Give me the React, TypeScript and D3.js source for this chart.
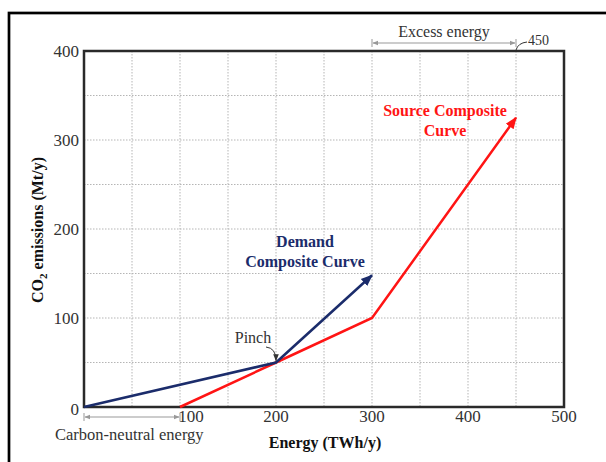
import React, { useRef, useEffect } from "react";
import * as d3 from "d3";

// composite curves (energy TWh/y, CO2 Mt/y)
const demandEnergy = [0, 200, 300];
const demandCO2 = [0, 50, 148];
const sourceEnergy = [100, 200, 300, 450];
const sourceCO2 = [0, 50, 100, 325];

const xTickLabels = [100, 200, 300, 400, 500];
const yTickLabels = [0, 100, 200, 300, 400];
const gridStep = 50;

const pinch = [200, 50];
const carbonNeutral = [0, 100];
const excess = [300, 450];

const NAVY = "#1b2c6b";
const RED = "#ff1414";
const FONT = "'Liberation Serif', 'Times New Roman', serif";

const App = () => {
  const svgRef = useRef<SVGSVGElement>(null);

  useEffect(() => {
    const svg = d3.select(svgRef.current);
    svg.selectAll("*").remove();

    const x = d3.scaleLinear().domain([0, 500]).range([84, 564]);
    const y = d3.scaleLinear().domain([0, 400]).range([407, 51]);

    const defs = svg.append("defs");
    const marker = (id: string, color: string, size: number) => {
      defs
        .append("marker")
        .attr("id", id)
        .attr("viewBox", "0 0 10 10")
        .attr("refX", 9)
        .attr("refY", 5)
        .attr("markerWidth", size)
        .attr("markerHeight", size)
        .attr("markerUnits", "userSpaceOnUse")
        .attr("orient", "auto-start-reverse")
        .append("path")
        .attr("d", "M0,1 L10,5 L0,9 Z")
        .attr("fill", color);
    };
    marker("navyHead", NAVY, 12);
    marker("redHead", RED, 12);
    marker("grayHead", "#999", 6);
    marker("darkHead", "#333", 7);

    // outer frame
    svg
      .append("rect")
      .attr("x", 9)
      .attr("y", 13)
      .attr("width", 640)
      .attr("height", 500)
      .attr("fill", "white")
      .attr("stroke", "black")
      .attr("stroke-width", 2.7);

    // grid
    const grid = svg.append("g").attr("stroke", "#b5b5b5").attr("stroke-width", 1).attr("stroke-dasharray", "1.5,1.5");
    grid
      .selectAll("line.v")
      .data(d3.range(gridStep, 500, gridStep))
      .enter()
      .append("line")
      .attr("x1", (d) => x(d))
      .attr("x2", (d) => x(d))
      .attr("y1", y(400))
      .attr("y2", y(0));
    grid
      .selectAll("line.h")
      .data(d3.range(gridStep, 400, gridStep))
      .enter()
      .append("line")
      .attr("x1", x(0))
      .attr("x2", x(500))
      .attr("y1", (d) => y(d))
      .attr("y2", (d) => y(d));

    // plot frame
    svg
      .append("rect")
      .attr("x", x(0))
      .attr("y", y(400))
      .attr("width", x(500) - x(0))
      .attr("height", y(0) - y(400))
      .attr("fill", "none")
      .attr("stroke", "#2a2a2a")
      .attr("stroke-width", 2.5);

    // tick labels
    svg
      .append("g")
      .selectAll("text")
      .data(xTickLabels)
      .enter()
      .append("text")
      .attr("x", (d) => x(d) + (d === 100 ? 11 : 0))
      .attr("y", 422)
      .attr("text-anchor", "middle")
      .attr("font-family", FONT)
      .attr("font-size", 17)
      .attr("fill", "#333")
      .text((d) => d);

    svg
      .append("g")
      .selectAll("text")
      .data(yTickLabels)
      .enter()
      .append("text")
      .attr("x", 79)
      .attr("y", (d) => y(d) + (d === 0 ? 2 : 0))
      .attr("dy", "0.35em")
      .attr("text-anchor", "end")
      .attr("font-family", FONT)
      .attr("font-size", 17)
      .attr("fill", "#333")
      .text((d) => d);

    // axis titles
    svg
      .append("text")
      .attr("x", 325)
      .attr("y", 448)
      .attr("text-anchor", "middle")
      .attr("font-family", FONT)
      .attr("font-size", 16)
      .attr("font-weight", "bold")
      .attr("fill", "#111")
      .text("Energy (TWh/y)");

    const yTitle = svg
      .append("text")
      .attr("transform", "translate(43,230) rotate(-90)")
      .attr("text-anchor", "middle")
      .attr("font-family", FONT)
      .attr("font-size", 16)
      .attr("font-weight", "bold")
      .attr("fill", "#111");
    yTitle.append("tspan").text("CO");
    yTitle.append("tspan").attr("font-size", 11).attr("dy", 4).text("2");
    yTitle.append("tspan").attr("dy", -4).text(" emissions (Mt/y)");

    // curves
    const line = d3
      .line<[number, number]>()
      .x((d) => x(d[0]))
      .y((d) => y(d[1]));

    svg
      .append("path")
      .attr("d", line(sourceEnergy.map((e, i) => [e, sourceCO2[i]])))
      .attr("fill", "none")
      .attr("stroke", RED)
      .attr("stroke-width", 2.5)
      .attr("marker-end", "url(#redHead)");

    svg
      .append("path")
      .attr("d", line(demandEnergy.map((e, i) => [e, demandCO2[i]])))
      .attr("fill", "none")
      .attr("stroke", NAVY)
      .attr("stroke-width", 2.5)
      .attr("marker-end", "url(#navyHead)");

    // curve labels
    const label = (lines: string[], cx: number, cy: number, color: string) => {
      lines.forEach((t, i) =>
        svg
          .append("text")
          .attr("x", cx)
          .attr("y", cy + i * 20)
          .attr("text-anchor", "middle")
          .attr("font-family", FONT)
          .attr("font-size", 16)
          .attr("font-weight", "bold")
          .attr("fill", color)
          .text(t)
      );
    };
    label(["Demand", "Composite Curve"], 305, 247, NAVY);
    label(["Source Composite", "Curve"], 445, 116, RED);

    // dimension arrows
    const dim = (x0: number, x1: number, yy: number) => {
      const g = svg.append("g").attr("stroke", "#999").attr("stroke-width", 1);
      g.append("line")
        .attr("x1", x0 + 1)
        .attr("x2", x1 - 1)
        .attr("y1", yy)
        .attr("y2", yy)
        .attr("marker-start", "url(#grayHead)")
        .attr("marker-end", "url(#grayHead)");
      [x0, x1].forEach((xx) =>
        g.append("line").attr("x1", xx).attr("x2", xx).attr("y1", yy - 4).attr("y2", yy + 4)
      );
    };
    dim(x(carbonNeutral[0]), x(carbonNeutral[1]), 417);
    dim(x(excess[0]), x(excess[1]), 43);

    svg
      .append("text")
      .attr("x", 55)
      .attr("y", 440)
      .attr("font-family", FONT)
      .attr("font-size", 16.5)
      .attr("fill", "#333")
      .text("Carbon-neutral energy");

    svg
      .append("text")
      .attr("x", (x(excess[0]) + x(excess[1])) / 2)
      .attr("y", 37)
      .attr("text-anchor", "middle")
      .attr("font-family", FONT)
      .attr("font-size", 16)
      .attr("fill", "#333")
      .text("Excess energy");

    // 450 marker
    svg
      .append("path")
      .attr("d", `M${x(450)},${y(400) - 1} Q${x(450) + 2},${y(400) - 8} ${x(450) + 11},${y(400) - 9}`)
      .attr("fill", "none")
      .attr("stroke", "#333")
      .attr("stroke-width", 1);
    svg
      .append("text")
      .attr("x", x(450) + 12)
      .attr("y", 45)
      .attr("font-family", FONT)
      .attr("font-size", 14)
      .attr("fill", "#333")
      .text("450");

    // pinch annotation
    svg
      .append("text")
      .attr("x", 253)
      .attr("y", 343)
      .attr("text-anchor", "middle")
      .attr("font-family", FONT)
      .attr("font-size", 16)
      .attr("fill", "#333")
      .text("Pinch");
    svg
      .append("path")
      .attr("d", `M266,347 Q276,348 ${x(pinch[0])},${y(pinch[1]) - 2}`)
      .attr("fill", "none")
      .attr("stroke", "#333")
      .attr("stroke-width", 1)
      .attr("marker-end", "url(#darkHead)");
  }, []);

  return (
    <svg
      ref={svgRef}
      width={606}
      height={462}
      style={{ position: "absolute", left: 0, top: 0, background: "white" }}
    ></svg>
  );
};

export default App;
